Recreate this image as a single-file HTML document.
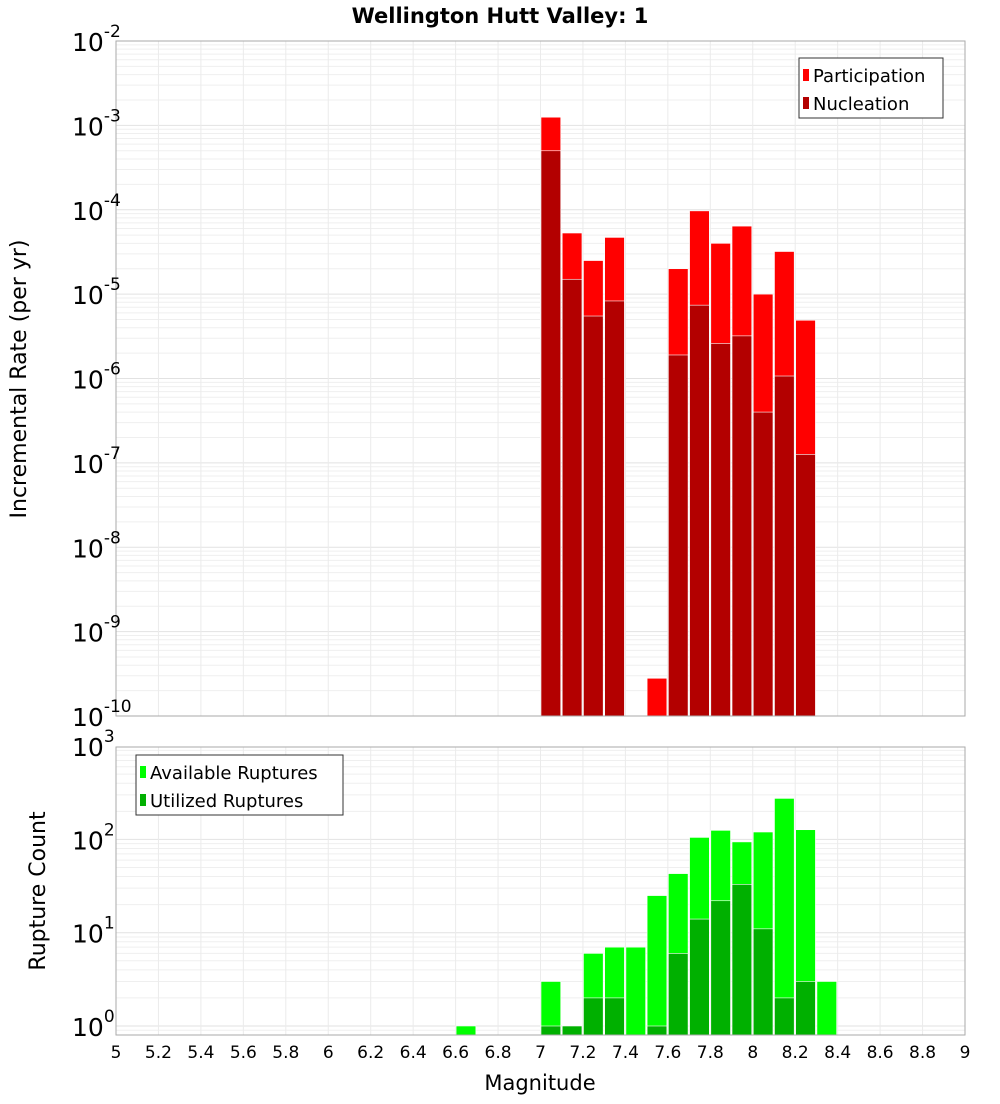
<!DOCTYPE html>
<html><head><meta charset="utf-8"><style>
body{margin:0;background:#fff;font-family:"DejaVu Sans","Liberation Sans",sans-serif}
svg text{font-family:"DejaVu Sans","Liberation Sans",sans-serif}
</style></head><body>
<svg id="c" width="1000" height="1100" xmlns="http://www.w3.org/2000/svg"></svg>
<script>
const bins=[7.05,7.15,7.25,7.35,7.55,7.65,7.75,7.85,7.95,8.05,8.15,8.25];
const participation=[1.25e-3,5.3e-5,2.5e-5,4.7e-5,2.8e-10,2.0e-5,9.7e-5,4.0e-5,6.4e-5,1.0e-5,3.2e-5,4.9e-6];
const nucleation=[5e-4,1.5e-5,5.5e-6,8.3e-6,0,1.9e-6,7.4e-6,2.6e-6,3.2e-6,4e-7,1.07e-6,1.26e-7];
const cbins=[6.65,7.05,7.15,7.25,7.35,7.45,7.55,7.65,7.75,7.85,7.95,8.05,8.15,8.25,8.35];
const available=[1,3,1,6,7,7,25,43,105,125,94,120,275,127,3];
const utilized=[0,1,1,2,2,0,1,6,14,22,33,11,2,3,0];
const xticks=[5,5.2,5.4,5.6,5.8,6,6.2,6.4,6.6,6.8,7,7.2,7.4,7.6,7.8,8,8.2,8.4,8.6,8.8,9];

const NS="http://www.w3.org/2000/svg",svg=document.getElementById('c');
function el(t,a,txt){const e=document.createElementNS(NS,t);for(const k in a)e.setAttribute(k,a[k]);if(txt!==undefined)e.textContent=txt;svg.appendChild(e);return e;}
const X0=116,X1=965;
const xs=m=>X0+(m-5)/4*(X1-X0);
const T0=41,T1=716,ys1=v=>T0+(-2-Math.log10(v))/8*(T1-T0);
const B0=747,B1=1035,ys2=v=>1026-Math.log10(v)*93.3;

function grid(top,bot,ys,dmin,dmax){
  for(let d=dmin;d<dmax;d++)for(let k=1;k<10;k++){const y=ys(k*Math.pow(10,d));if(y<top||y>bot)continue;
    const g=el('line',{x1:X0,x2:X1,y1:y,y2:y,stroke:k==1?'#e2e2e2':'#efefef','stroke-width':1});
    }
  xticks.forEach(m=>{const g=el('line',{x1:xs(m),x2:xs(m),y1:top,y2:bot,stroke:'#ebebeb'});
    });
}
grid(T0,T1,ys1,-10,-2);
grid(B0,B1,ys2,-1,3);

const w=(X1-X0)/40;
function bar(m,v,ys,bot,fill,name){if(!v)return;const y=Math.max(ys(v),0);
  const r=el('rect',{x:xs(m)-w/2+0.5,y:y,width:w-1.5,height:bot-y,fill:fill,stroke:'#fff','stroke-width':0.6});
  }
bins.forEach((m,i)=>bar(m,participation[i],ys1,T1,'#ff0000','participation-bar'));
bins.forEach((m,i)=>bar(m,nucleation[i],ys1,T1,'#b30000','nucleation-bar'));
cbins.forEach((m,i)=>bar(m,available[i],ys2,B1,'#00ff00','available-bar'));
cbins.forEach((m,i)=>bar(m,utilized[i],ys2,B1,'#00b000','utilized-bar'));

el('rect',{x:X0,y:T0,width:X1-X0,height:T1-T0,fill:'none',stroke:'#aaa',});
el('rect',{x:X0,y:B0,width:X1-X0,height:B1-B0,fill:'none',stroke:'#aaa',});

for(let d=-10;d<=-2;d++){const y=ys1(Math.pow(10,d));
  const t=el('text',{x:72,y:y+10,'font-size':25,fill:'#000',});
  t.innerHTML='10<tspan dy="-14" font-size="17">'+d+'</tspan>';}
for(let d=0;d<=3;d++){const y=ys2(Math.pow(10,d));
  const t=el('text',{x:72,y:y+10,'font-size':25,fill:'#000',});
  t.innerHTML='10<tspan dy="-14" font-size="17">'+d+'</tspan>';}
xticks.forEach(m=>{const t=el('text',{x:xs(m),y:1058,'font-size':17,'text-anchor':'middle',fill:'#000'},String(m));
  });

el('text',{x:540,y:1090,'font-size':21,'text-anchor':'middle',},'Magnitude');
el('text',{x:0,y:0,'font-size':22,'text-anchor':'middle',transform:'translate(26,379) rotate(-90)',},'Incremental Rate (per yr)');
el('text',{x:0,y:0,'font-size':22,'text-anchor':'middle',transform:'translate(45,891) rotate(-90)',},'Rupture Count');
el('text',{x:500,y:23,'font-size':21,'font-weight':'bold','text-anchor':'middle',},'Wellington Hutt Valley: 1');

function legend(x,y,wd,items,name){el('rect',{x:x,y:y,width:wd,height:60,fill:'#fff',stroke:'#333',});
  items.forEach((it,i)=>{el('rect',{x:x+4,y:y+11+i*28,width:6,height:12,fill:it[1],});
    el('text',{x:x+14,y:y+24+i*28,'font-size':18,},it[0]);});}
legend(799,58,144,[['Participation','#ff0000'],['Nucleation','#b30000']],'top-legend');
legend(136,755,207,[['Available Ruptures','#00ff00'],['Utilized Ruptures','#00b000']],'bottom-legend');
</script>
</body></html>
